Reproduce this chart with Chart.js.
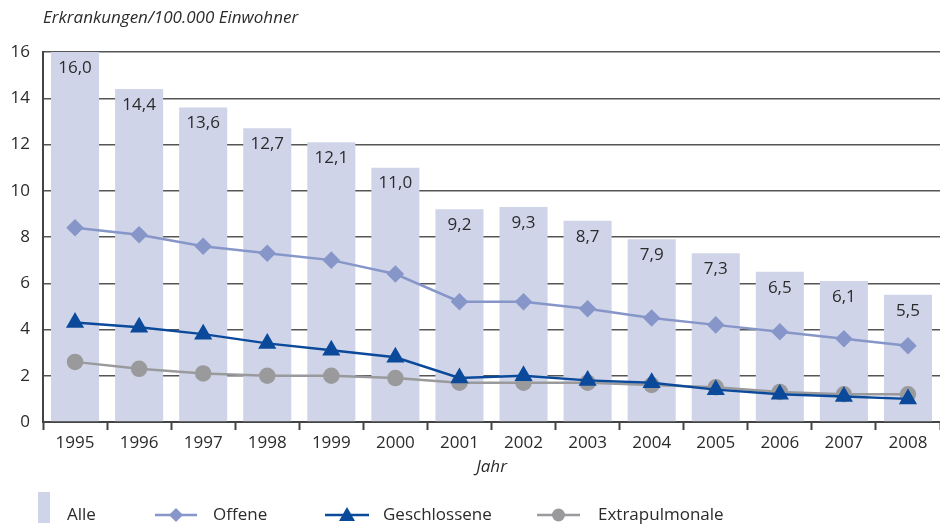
<!DOCTYPE html>
<html>
<head>
<meta charset="utf-8">
<script src="https://cdn.jsdelivr.net/npm/chart.js@4"></script>
<style>
  html, body { margin: 0; padding: 0; background: #fff; }
  #wrap { width: 940px; height: 527px; }
</style>
</head>
<body>
<div id="wrap"><canvas id="myChart" width="940" height="527"></canvas></div>
<script>
const years = ['1995', '1996', '1997', '1998', '1999', '2000', '2001',
  '2002', '2003', '2004', '2005', '2006', '2007', '2008'];

const alle = [16.0, 14.4, 13.6, 12.7, 12.1, 11.0, 9.2, 9.3, 8.7, 7.9, 7.3, 6.5, 6.1, 5.5];
const offene = [8.4, 8.1, 7.6, 7.3, 7.0, 6.4, 5.2, 5.2, 4.9, 4.5, 4.2, 3.9, 3.6, 3.3];
const geschlossene = [4.3, 4.1, 3.8, 3.4, 3.1, 2.8, 1.9, 2.0, 1.8, 1.7, 1.4, 1.2, 1.1, 1.0];
const extrapulmonale = [2.6, 2.3, 2.1, 2.0, 2.0, 1.9, 1.7, 1.7, 1.7, 1.6, 1.5, 1.3, 1.2, 1.2];

const yTicks = [0, 2, 4, 6, 8, 10, 12, 14, 16];

const FONT = '"Open Sans", "DejaVu Sans", sans-serif';
const TEXT = '#2b2b2b';
const barColor = '#cfd4e9';
const offColor = '#8796c8';
const gesColor = '#0b4a9b';
const extColor = '#9a9a9c';

// value labels inside bars, title, axis title and legend
const extras = {
  id: 'extras',
  afterDatasetsDraw(chart) {
    const ctx = chart.ctx;
    const meta = chart.getDatasetMeta(3);
    ctx.save();
    ctx.fillStyle = TEXT;
    ctx.font = '17px ' + FONT;
    ctx.textAlign = 'center';
    ctx.textBaseline = 'middle';
    meta.data.forEach((bar, i) => {
      ctx.fillText(alle[i].toFixed(1).replace('.', ','), bar.x, bar.y + 16);
    });
    ctx.restore();
  },
  afterDraw(chart) {
    const ctx = chart.ctx;
    const area = chart.chartArea;
    ctx.save();
    ctx.fillStyle = TEXT;
    ctx.font = 'italic 17px ' + FONT;
    ctx.textBaseline = 'middle';
    ctx.textAlign = 'left';
    ctx.fillText('Erkrankungen/100.000 Einwohner', 43, 18);
    ctx.textAlign = 'center';
    ctx.fillText('Jahr', (area.left + area.right) / 2, 467);

    // legend
    const ly = 515;
    ctx.fillStyle = barColor;
    ctx.fillRect(38, 492, 12, 31);
    ctx.fillStyle = TEXT;
    ctx.font = '17px ' + FONT;
    ctx.textAlign = 'left';
    ctx.fillText('Alle', 67, ly);

    const item = (x0, x1, color, label, tx, marker) => {
      ctx.strokeStyle = color;
      ctx.lineWidth = 2.5;
      ctx.beginPath();
      ctx.moveTo(x0, ly);
      ctx.lineTo(x1, ly);
      ctx.stroke();
      const cx = (x0 + x1) / 2;
      ctx.fillStyle = color;
      ctx.beginPath();
      if (marker === 'diamond') {
        ctx.moveTo(cx, ly - 7); ctx.lineTo(cx + 7, ly);
        ctx.lineTo(cx, ly + 7); ctx.lineTo(cx - 7, ly);
      } else if (marker === 'triangle') {
        ctx.moveTo(cx, ly - 8); ctx.lineTo(cx + 8, ly + 6);
        ctx.lineTo(cx - 8, ly + 6);
      } else {
        ctx.arc(cx, ly, 6.5, 0, Math.PI * 2);
      }
      ctx.closePath();
      ctx.fill();
      ctx.fillStyle = TEXT;
      ctx.fillText(label, tx, ly);
    };
    item(155, 197, offColor, 'Offene', 213, 'diamond');
    item(325, 369, gesColor, 'Geschlossene', 383, 'triangle');
    item(537, 580, extColor, 'Extrapulmonale', 598, 'circle');
    ctx.restore();
  }
};

const data = {
  labels: years,
  datasets: [
    {
      type: 'line',
      label: 'Geschlossene',
      data: geschlossene,
      borderColor: gesColor,
      backgroundColor: gesColor,
      borderWidth: 2.5,
      pointStyle: 'triangle',
      pointRadius: 8,
      pointHoverRadius: 8,
      order: 1
    },
    {
      type: 'line',
      label: 'Offene',
      data: offene,
      borderColor: offColor,
      backgroundColor: offColor,
      borderWidth: 2.5,
      pointStyle: 'rectRot',
      pointRadius: 7,
      pointHoverRadius: 7,
      order: 2
    },
    {
      type: 'line',
      label: 'Extrapulmonale',
      data: extrapulmonale,
      borderColor: extColor,
      backgroundColor: extColor,
      borderWidth: 2.5,
      pointStyle: 'circle',
      pointRadius: 7,
      pointHoverRadius: 7,
      order: 3
    },
    {
      type: 'bar',
      label: 'Alle',
      data: alle,
      backgroundColor: barColor,
      categoryPercentage: 1,
      barPercentage: 0.75,
      order: 4
    }
  ]
};

const config = {
  data: data,
  plugins: [extras],
  options: {
    responsive: false,
    animation: false,
    layout: {
      autoPadding: false,
      padding: { top: 52, right: 0, bottom: 55, left: 0 }
    },
    plugins: {
      legend: { display: false },
      tooltip: { enabled: false }
    },
    scales: {
      x: {
        offset: true,
        grid: {
          offset: true,
          drawOnChartArea: false,
          drawTicks: true,
          tickLength: 8,
          tickColor: '#444',
          tickWidth: 2
        },
        border: { color: '#444', width: 2 },
        ticks: {
          color: TEXT,
          font: { family: FONT, size: 17 },
          padding: 3,
          maxRotation: 0
        },
        afterFit(scale) {
          scale.height = 50;
          scale.paddingLeft = 0;
          scale.paddingRight = 0;
        }
      },
      y: {
        min: 0,
        max: 16,
        afterBuildTicks(scale) {
          scale.ticks = yTicks.map(v => ({ value: v }));
        },
        grid: {
          color: '#555',
          lineWidth: 1.5,
          drawTicks: false
        },
        border: { color: '#444', width: 2 },
        ticks: {
          color: TEXT,
          font: { family: FONT, size: 17 },
          padding: 13
        },
        afterFit(scale) {
          scale.width = 43;
          scale.paddingTop = 0;
          scale.paddingBottom = 0;
        }
      }
    }
  }
};

const myChart = new Chart(document.getElementById('myChart'), config);
</script>
</body>
</html>
